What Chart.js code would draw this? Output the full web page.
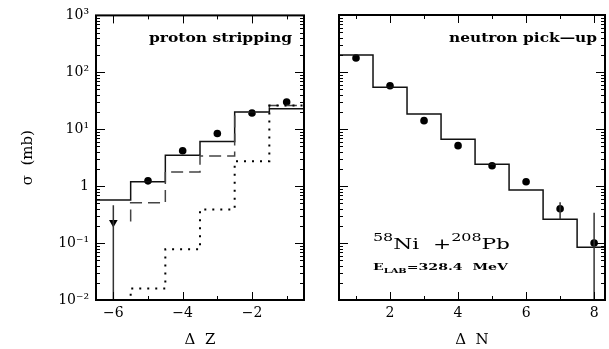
<!DOCTYPE html>
<html>
<head>
<meta charset="utf-8">
<script src="https://cdn.jsdelivr.net/npm/chart.js@4"></script>
<style>
  html, body { margin: 0; padding: 0; background: #fff; }
  .wrap { position: relative; width: 609px; height: 349px; }
  canvas { position: absolute; left: 0; top: 0; }
</style>
</head>
<body>
<div class="wrap">
  <canvas id="protonChart" width="609" height="349"></canvas>
  <canvas id="neutronChart" width="609" height="349"></canvas>
</div>
<script>
// proton stripping (left panel)
const zBins = [-6, -5, -4, -3, -2, -1];
const zSolid = [0.57, 1.19, 3.5, 6.1, 20, 23];
const zDashedStart = 0.24;
const zDashedBins = [-5, -4, -3, -2, -1];
const zDashed = [0.51, 1.78, 3.4, 20, 26];
const zDotted = [0.005, 0.016, 0.078, 0.39, 2.75, 26];
const zMeasured = [0.23, 1.24, 4.2, 8.4, 19.3, 30];
const zErrors = [[0.001, 0.46], null, null, null, null, null];
const zTickValues = [-6, -4, -2];
const zTickLabels = ['\u22126', '\u22124', '\u22122'];

// neutron pick-up (right panel)
const nBins = [1, 2, 3, 4, 5, 6, 7, 8];
const nSolid = [199, 54, 18.3, 6.6, 2.4, 0.85, 0.26, 0.084];
const nMeasured = [176, 57.5, 14, 5.1, 2.27, 1.19, 0.40, 0.10];
const nErrors = [null, null, null, null, null, null, [0.26, 0.52], [0.001, 0.34]];
const nTickValues = [2, 4, 6, 8];
const nTickLabels = ['2', '4', '6', '8'];

// shared log axis
const yTickValues = [1000, 100, 10, 1, 0.1, 0.01];
const yTickLabels = ['10\u00B3', '10\u00B2', '10\u00B9', '1', '10\u207B\u00B9', '10\u207B\u00B2'];

const SERIF = "'DejaVu Serif', 'Liberation Serif', serif";

// histogram edges; Chart.js 'before' keeps the previous value across the bin
function steps(bins, vals, start) {
    const pts = [];
    if (start !== undefined) pts.push({ x: bins[0] - 0.5, y: start });
    bins.forEach((b, i) => pts.push({ x: b - 0.5, y: vals[i] }));
    pts.push({ x: bins[bins.length - 1] + 0.5, y: vals[vals.length - 1] });
    return pts;
}

function points(bins, vals) {
    return bins.map((b, i) => ({ x: b, y: vals[i] }));
}

// frame + inward ticks on all four sides
const frameTicks = {
    id: 'frameTicks',
    afterDraw(chart) {
        const { ctx, chartArea: a, scales: { x, y } } = chart;
        ctx.save();
        ctx.strokeStyle = '#000';
        ctx.lineWidth = 1;
        ctx.beginPath();
        const d0 = Math.round(Math.log10(y.min));
        const d1 = Math.round(Math.log10(y.max));
        for (let d = d0; d <= d1; d++) {
            for (let m = 1; m <= 9; m++) {
                const v = m * Math.pow(10, d);
                if (v > y.max) break;
                const py = Math.round(y.getPixelForValue(v)) + 0.5;
                const len = m === 1 ? 9 : 4;
                ctx.moveTo(a.left, py); ctx.lineTo(a.left + len, py);
                ctx.moveTo(a.right, py); ctx.lineTo(a.right - len, py);
            }
        }
        for (let t = Math.ceil(x.min); t <= Math.floor(x.max); t++) {
            const px = Math.round(x.getPixelForValue(t)) + 0.5;
            const len = t % 2 === 0 ? 8 : 4;
            ctx.moveTo(px, a.bottom); ctx.lineTo(px, a.bottom - len);
            ctx.moveTo(px, a.top); ctx.lineTo(px, a.top + len);
        }
        ctx.stroke();
        ctx.lineWidth = 2;
        ctx.strokeRect(a.left, a.top, a.right - a.left, a.bottom - a.top);
        ctx.restore();
    }
};

// vertical error bars from dataset.errors
const errorBars = {
    id: 'errorBars',
    afterDatasetsDraw(chart) {
        const { ctx, chartArea: a, scales: { x, y } } = chart;
        ctx.save();
        ctx.beginPath();
        ctx.rect(a.left, a.top, a.right - a.left, a.bottom - a.top);
        ctx.clip();
        ctx.strokeStyle = '#333';
        ctx.lineWidth = 1.5;
        chart.data.datasets.forEach(ds => {
            if (!ds.errors) return;
            ds.errors.forEach((e, i) => {
                if (!e) return;
                const px = x.getPixelForValue(ds.data[i].x);
                ctx.beginPath();
                ctx.moveTo(px, y.getPixelForValue(e[0]));
                ctx.lineTo(px, y.getPixelForValue(e[1]));
                ctx.stroke();
            });
        });
        ctx.restore();
    }
};

// free text inside the panels, stretched to a given width like the original
const panelText = {
    id: 'panelText',
    afterDraw(chart, args, opts) {
        const { ctx } = chart;
        ctx.save();
        ctx.fillStyle = '#000';
        ctx.textAlign = 'left';
        ctx.textBaseline = 'alphabetic';
        (opts.items || []).forEach(it => {
            let w = 0;
            it.parts.forEach(p => { ctx.font = p.font; w += ctx.measureText(p.text).width; });
            const sx = it.width ? it.width / w : 1;
            const left = it.align === 'right' ? it.x - w * sx : it.x;
            ctx.save();
            ctx.translate(left, it.y);
            ctx.scale(sx, 1);
            let cx = 0;
            it.parts.forEach(p => {
                ctx.font = p.font;
                ctx.fillText(p.text, cx, p.dy || 0);
                cx += ctx.measureText(p.text).width;
            });
            ctx.restore();
        });
        ctx.restore();
    }
};

function makeChart(id, cfg) {
    return new Chart(document.getElementById(id), {
        type: 'line',
        data: { datasets: cfg.datasets },
        options: {
            responsive: false,
            animation: false,
            layout: { padding: cfg.padding },
            plugins: {
                legend: { display: false },
                tooltip: { enabled: false },
                panelText: { items: cfg.text }
            },
            scales: {
                x: {
                    type: 'linear',
                    min: cfg.xMin,
                    max: cfg.xMax,
                    grid: { display: false, drawTicks: false },
                    border: { display: false },
                    afterBuildTicks: s => { s.ticks = cfg.xTicks.map(v => ({ value: v })); },
                    afterFit: s => { s.height = 49; },
                    ticks: {
                        padding: 5,
                        color: '#000',
                        font: { family: SERIF, size: 14 },
                        callback: v => cfg.xLabels[cfg.xTicks.indexOf(v)]
                    },
                    title: {
                        display: true,
                        text: cfg.xTitle,
                        color: '#000',
                        font: { family: SERIF, size: 15 },
                        padding: { top: 0, bottom: 0 }
                    }
                },
                y: {
                    type: 'logarithmic',
                    min: 0.01,
                    max: 1000,
                    grid: { display: false, drawTicks: false },
                    border: { display: false },
                    afterBuildTicks: s => { s.ticks = yTickValues.map(v => ({ value: v })); },
                    afterFit: s => { s.width = cfg.yWidth; },
                    ticks: {
                        display: cfg.yLabels,
                        padding: 7,
                        color: '#000',
                        font: { family: SERIF, size: 14 },
                        callback: v => yTickLabels[yTickValues.indexOf(v)]
                    },
                    title: {
                        display: cfg.yLabels,
                        text: '\u03C3  (mb)',
                        color: '#000',
                        font: { family: SERIF, size: 15 },
                        padding: { top: 19, bottom: 0 }
                    }
                }
            }
        },
        plugins: [frameTicks, errorBars, panelText]
    });
}

const histLine = (data, extra) => Object.assign({
    data: data,
    stepped: 'before',
    borderColor: '#111',
    borderWidth: 1.5,
    pointRadius: 0,
    fill: false
}, extra);

const measured = (data, errors) => ({
    data: data,
    errors: errors,
    showLine: false,
    pointRadius: 3.8,
    pointStyle: 'circle',
    pointBackgroundColor: '#000',
    pointBorderColor: '#000',
    pointBorderWidth: 0
});

makeChart('protonChart', {
    padding: { top: 15, right: 305, left: 0, bottom: 0 },
    xMin: -6.5, xMax: -0.5,
    xTicks: zTickValues, xLabels: zTickLabels,
    xTitle: '\u0394  Z',
    yWidth: 96, yLabels: true,
    datasets: [
        histLine(steps(zBins, zDotted), { borderColor: '#000', borderWidth: 2, borderDash: [2, 6] }),
        histLine(steps(zDashedBins, zDashed, zDashedStart), { borderColor: '#444', borderDash: [12, 6] }),
        histLine(steps(zBins, zSolid)),
        Object.assign(measured(points(zBins, zMeasured), zErrors), {
            pointStyle: ['triangle', 'circle', 'circle', 'circle', 'circle', 'circle'],
            rotation: [180, 0, 0, 0, 0, 0],
            pointRadius: [5, 3.8, 3.8, 3.8, 3.8, 3.8]
        })
    ],
    text: [
        { x: 292, y: 42, width: 143, align: 'right', parts: [{ text: 'proton stripping', font: `bold 12px ${SERIF}` }] }
    ]
});

makeChart('neutronChart', {
    padding: { top: 15, right: 0, left: 0, bottom: 0 },
    xMin: 0.5, xMax: 8.32,
    xTicks: nTickValues, xLabels: nTickLabels,
    xTitle: '\u0394  N',
    yWidth: 339, yLabels: false,
    datasets: [
        histLine(steps(nBins, nSolid)),
        measured(points(nBins, nMeasured), nErrors)
    ],
    text: [
        { x: 597, y: 42, width: 148, align: 'right', parts: [{ text: 'neutron pick\u2014up', font: `bold 12px ${SERIF}` }] },
        { x: 373, y: 249, width: 137, parts: [
            { text: '58', font: `11px ${SERIF}`, dy: -8 },
            { text: 'Ni  +', font: `15px ${SERIF}` },
            { text: '208', font: `11px ${SERIF}`, dy: -8 },
            { text: 'Pb', font: `15px ${SERIF}` }
        ] },
        { x: 373, y: 270, width: 135, parts: [
            { text: 'E', font: `bold 10px ${SERIF}` },
            { text: 'LAB', font: `bold 7px ${SERIF}`, dy: 3 },
            { text: '=328.4  MeV', font: `bold 10px ${SERIF}` }
        ] }
    ]
});
</script>
</body>
</html>
